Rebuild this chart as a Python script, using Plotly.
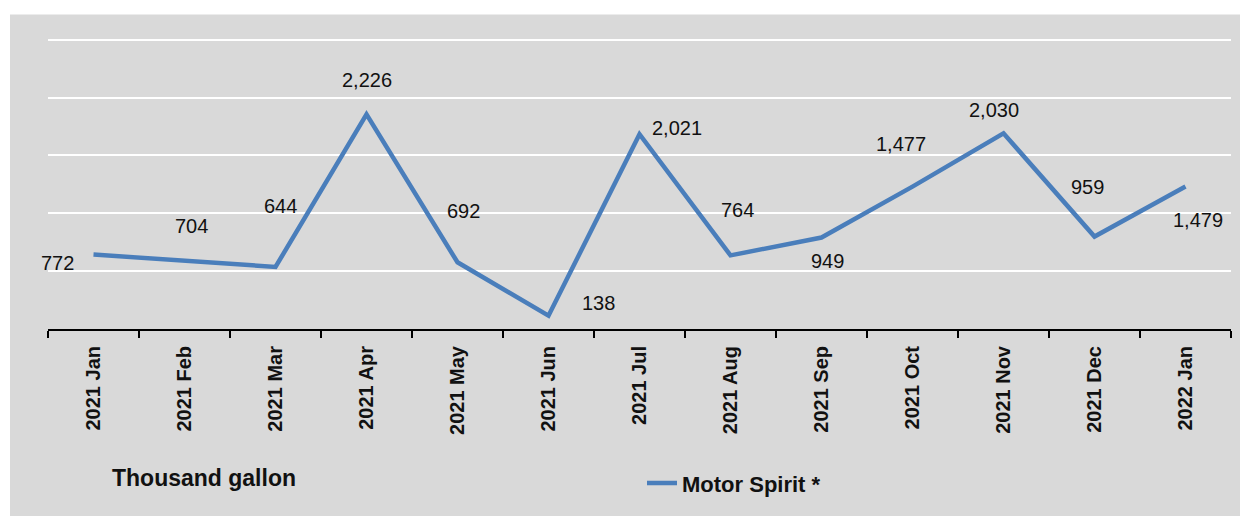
import plotly.graph_objects as go

months = ["2021 Jan", "2021 Feb", "2021 Mar", "2021 Apr", "2021 May", "2021 Jun",
          "2021 Jul", "2021 Aug", "2021 Sep", "2021 Oct", "2021 Nov", "2021 Dec", "2022 Jan"]
motor_spirit = [772, 704, 644, 2226, 692, 138, 2021, 764, 949, 1477, 2030, 959, 1479]

# label offsets in pixels (dx, dy with dy up), copied from where the source chart put them
label_shift = [(-36, -8), (7, 35), (5, 61), (0, 34), (6, 51), (50, 13), (37, 6),
               (7, 45), (6, -23), (-12, 43), (-10, 23), (-7, 50), (12, -34)]

# the page body keeps its default 8px margin, so the figure is sized to fit
# the 1250x524 window exactly; positions below are page pixels
PAGE_PAD = 8
W, H = 1250 - 2 * PAGE_PAD, 524 - 2 * PAGE_PAD
Y_TOP = 3050  # a bit of headroom so the 3000 gridline is drawn
AXIS_Y = 338 - PAGE_PAD
PLOT_X0, PLOT_X1 = 48 - PAGE_PAD, 1231 - PAGE_PAD
L, R = PLOT_X0, W - PLOT_X1
B = H - AXIS_Y
ph = round(298 * Y_TOP / 3000)
T = AXIS_Y - ph
pw = W - L - R

def px_x(p):
    return (p - PAGE_PAD - L) / pw

def px_y(p):
    return (AXIS_Y - (p - PAGE_PAD)) / ph

BG = "#d9d9d9"
BLUE = "#4a7ebb"
FONT = "Liberation Sans, Arial, sans-serif"

fig = go.Figure()
fig.add_trace(go.Scatter(
    x=months, y=motor_spirit, mode="lines", name="Motor Spirit *",
    line=dict(color=BLUE, width=4.5), hoverinfo="x+y",
))

annotations = []
for m, v, (dx, dy) in zip(months, motor_spirit, label_shift):
    annotations.append(dict(
        x=m, y=v, xref="x", yref="y", text=f"{v:,}", showarrow=False,
        xshift=dx, yshift=dy, font=dict(family=FONT, size=20, color="#111111"),
    ))

annotations.append(dict(
    x=px_x(110), y=px_y(492), xref="paper", yref="paper", xanchor="left", yanchor="middle",
    text="<b>Thousand gallon</b>", showarrow=False,
    font=dict(family=FONT, size=23, color="#111111"),
))

fig.update_layout(
    width=W, height=H,
    margin=dict(l=L, r=R, t=T, b=B),
    paper_bgcolor="white",
    plot_bgcolor=BG,
    font=dict(family=FONT, color="#111111"),
    annotations=annotations,
    shapes=[dict(
        type="rect", xref="paper", yref="paper", layer="below",
        x0=px_x(10), x1=px_x(1240), y0=px_y(540), y1=px_y(14),
        fillcolor=BG, line=dict(width=0),
    )],
    showlegend=True,
    legend=dict(
        x=px_x(642), y=px_y(497), xanchor="left", yanchor="middle",
        bgcolor="rgba(0,0,0,0)", orientation="h",
        font=dict(family=FONT, size=22, color="#111111", weight="bold"),
    ),
    xaxis=dict(
        type="category", tickson="boundaries", ticks="outside", ticklen=7,
        tickwidth=2, tickcolor="black", showline=True, linecolor="black", linewidth=2,
        showgrid=False, tickangle=-90, ticklabelstandoff=7,
        tickfont=dict(family=FONT, size=20, color="#111111", weight="bold"),
        range=[-0.5, len(months) - 0.5],
    ),
    yaxis=dict(
        range=[0, Y_TOP], dtick=600, showticklabels=False, showgrid=True,
        gridcolor="white", gridwidth=2, zeroline=False, showline=False, ticks="",
    ),
)

fig.write_html("out.html", config={"displayModeBar": False})
